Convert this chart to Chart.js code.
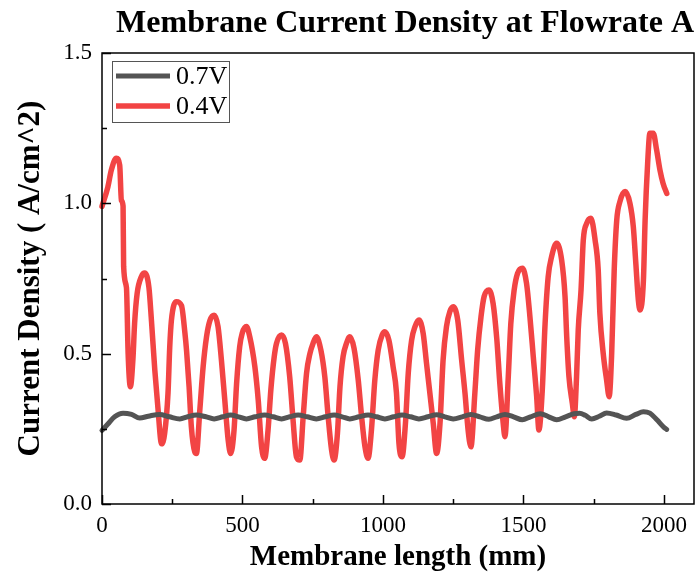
<!DOCTYPE html>
<html>
<head>
<meta charset="utf-8">
<script src="https://cdn.jsdelivr.net/npm/chart.js@4/dist/chart.umd.min.js"></script>
<style>
  body { margin: 0; background: #fff; }
  canvas { display: block; }
</style>
</head>
<body>
<canvas id="chart" width="698" height="576"></canvas>
<script>
// values (mm, A/cm^2)
const lengthHigh = [0, 20, 45, 75, 105, 134, 165, 205, 240, 277, 305, 336, 370, 399, 430, 458, 486, 514,
  545, 579, 609, 639, 668, 698, 730, 763, 795, 826, 855, 882, 915, 947, 977, 1007, 1038, 1068, 1098,
  1128, 1160, 1191, 1220, 1250, 1282, 1313, 1345, 1377, 1405, 1434, 1465, 1496, 1525, 1560, 1590,
  1618, 1650, 1680, 1700, 1720, 1743, 1770, 1796, 1830, 1867, 1900, 1927, 1950, 1975, 2000, 2010];
const current07V = [0.245, 0.265, 0.29, 0.302, 0.298, 0.286, 0.292, 0.298, 0.29, 0.283, 0.29, 0.296,
  0.29, 0.283, 0.29, 0.296, 0.29, 0.283, 0.29, 0.296, 0.29, 0.283, 0.29, 0.296, 0.29, 0.283, 0.29,
  0.296, 0.29, 0.283, 0.29, 0.296, 0.29, 0.283, 0.29, 0.296, 0.29, 0.283, 0.29, 0.297, 0.29, 0.283,
  0.29, 0.298, 0.29, 0.282, 0.29, 0.298, 0.29, 0.28, 0.29, 0.30, 0.29, 0.28, 0.29, 0.30, 0.302, 0.295,
  0.283, 0.292, 0.303, 0.296, 0.285, 0.298, 0.307, 0.302, 0.28, 0.255, 0.248];

const lengthLow = [0, 21, 33, 51, 63, 69, 75, 77, 87, 93, 101, 110, 116, 125, 140, 152, 167, 176, 188,
  199, 212, 223, 235, 241, 247, 265, 283, 295, 301, 310, 318, 330, 336, 348, 360, 372, 384, 399, 413,
  425, 437, 449, 458, 470, 479, 490, 499, 514, 526, 544, 556, 568, 579, 591, 601, 613, 621, 639, 653,
  668, 680, 692, 704, 716, 728, 740, 751, 763, 779, 793, 805, 817, 826, 838, 847, 858, 870, 882, 897,
  912, 924, 936, 947, 959, 971, 983, 997, 1007, 1021, 1036, 1048, 1057, 1068, 1080, 1090, 1102, 1114,
  1128, 1143, 1155, 1167, 1179, 1191, 1203, 1214, 1226, 1238, 1250, 1266, 1280, 1292, 1303, 1313,
  1327, 1337, 1349, 1360, 1377, 1392, 1405, 1416, 1428, 1434, 1446, 1455, 1467, 1479, 1496, 1511,
  1523, 1535, 1547, 1555, 1567, 1577, 1588, 1600, 1618, 1636, 1648, 1654, 1662, 1674, 1681, 1689,
  1695, 1705, 1713, 1725, 1740, 1755, 1766, 1772, 1784, 1796, 1805, 1814, 1823, 1832, 1843, 1862,
  1879, 1891, 1900, 1909, 1915, 1927, 1933, 1942, 1950, 1962, 1974, 1986, 1997, 2010];
const current04V = [0.99, 1.055, 1.11, 1.15, 1.127, 1.01, 0.99, 0.79, 0.72, 0.50, 0.39, 0.48, 0.60,
  0.70, 0.756, 0.768, 0.72, 0.61, 0.445, 0.32, 0.20, 0.235, 0.37, 0.52, 0.61, 0.673, 0.66, 0.57, 0.51,
  0.39, 0.257, 0.174, 0.168, 0.31, 0.457, 0.556, 0.61, 0.628, 0.59, 0.479, 0.346, 0.213, 0.168, 0.246,
  0.40, 0.523, 0.568, 0.59, 0.556, 0.457, 0.346, 0.19, 0.152, 0.246, 0.38, 0.49, 0.534, 0.562, 0.534,
  0.423, 0.279, 0.157, 0.146, 0.29, 0.435, 0.50, 0.534, 0.556, 0.512, 0.423, 0.29, 0.18, 0.146, 0.235,
  0.39, 0.49, 0.534, 0.556, 0.518, 0.412, 0.29, 0.19, 0.152, 0.246, 0.412, 0.512, 0.562, 0.573, 0.545,
  0.457, 0.37, 0.2, 0.157, 0.268, 0.435, 0.545, 0.59, 0.612, 0.568, 0.468, 0.368, 0.268, 0.168, 0.268,
  0.479, 0.59, 0.64, 0.656, 0.612, 0.479, 0.368, 0.246, 0.19, 0.368, 0.512, 0.623, 0.69, 0.712, 0.667,
  0.55, 0.40, 0.268, 0.224, 0.423, 0.60, 0.712, 0.767, 0.784, 0.734, 0.623, 0.49, 0.357, 0.246, 0.379,
  0.60, 0.756, 0.822, 0.867, 0.811, 0.69, 0.556, 0.423, 0.335, 0.29, 0.423, 0.579, 0.712, 0.878, 0.933,
  0.95, 0.878, 0.78, 0.634, 0.50, 0.412, 0.357, 0.50, 0.778, 0.944, 1.005, 1.039, 1.0, 0.922, 0.80,
  0.678, 0.645, 0.745, 0.944, 1.133, 1.233, 1.233, 1.177, 1.11, 1.066, 1.033];

const serif = '"Liberation Serif", "Times New Roman", serif';

const toPoints = (xs, ys) => xs.map((x, i) => ({ x, y: ys[i] }));
const isHalf = (v) => Math.abs(v * 2 - Math.round(v * 2)) < 1e-6;

// box, inward ticks and the boxed legend, drawn the way the original plot has them
const framePlugin = {
  id: 'frame',
  afterDatasetsDraw(chart) {
    const { ctx, chartArea: a, scales } = chart;
    ctx.save();
    ctx.strokeStyle = '#000';
    ctx.lineWidth = 1.5;
    ctx.strokeRect(a.left, a.top, a.right - a.left, a.bottom - a.top);

    ctx.beginPath();
    scales.x.ticks.forEach((t) => {
      const px = Math.round(scales.x.getPixelForValue(t.value)) + 0.5;
      const len = t.value % 500 === 0 ? 9 : 5;
      ctx.moveTo(px, a.bottom);
      ctx.lineTo(px, a.bottom - len);
    });
    scales.y.ticks.forEach((t) => {
      const py = Math.round(scales.y.getPixelForValue(t.value)) + 0.5;
      const len = isHalf(t.value) ? 9 : 5;
      ctx.moveTo(a.left, py);
      ctx.lineTo(a.left + len, py);
    });
    ctx.stroke();

    // legend
    const lx = a.left + 10, ly = a.top + 8, lw = 117, lh = 61;
    ctx.fillStyle = '#fff';
    ctx.fillRect(lx, ly, lw, lh);
    ctx.strokeStyle = '#555';
    ctx.lineWidth = 1;
    ctx.strokeRect(lx + 0.5, ly + 0.5, lw, lh);
    ctx.font = '26px ' + serif;
    ctx.textBaseline = 'middle';
    chart.data.datasets.forEach((ds, i) => {
      const y = ly + 15 + i * 30;
      ctx.strokeStyle = ds.borderColor;
      ctx.lineWidth = ds.borderWidth;
      ctx.lineCap = 'butt';
      ctx.beginPath();
      ctx.moveTo(lx + 4, y);
      ctx.lineTo(lx + 58, y);
      ctx.stroke();
      ctx.fillStyle = '#000';
      ctx.fillText(ds.label, lx + 64, y + 1);
    });
    ctx.restore();
  }
};

new Chart(document.getElementById('chart'), {
  type: 'line',
  data: {
    datasets: [
      {
        label: '0.7V',
        data: toPoints(lengthHigh, current07V),
        borderColor: '#545454',
        borderWidth: 5,
        cubicInterpolationMode: 'monotone',
        pointRadius: 0,
        borderJoinStyle: 'round',
        borderCapStyle: 'round',
        clip: false
      },
      {
        label: '0.4V',
        data: toPoints(lengthLow, current04V),
        borderColor: '#f24444',
        borderWidth: 5.5,
        cubicInterpolationMode: 'monotone',
        pointRadius: 0,
        borderJoinStyle: 'round',
        borderCapStyle: 'round',
        clip: false
      }
    ]
  },
  options: {
    responsive: false,
    animation: false,
    devicePixelRatio: 1,
    layout: { padding: { left: 0, right: 4, top: 0, bottom: 0 } },
    plugins: {
      legend: { display: false },
      tooltip: { enabled: false },
      title: {
        display: true,
        text: 'Membrane Current Density at Flowrate A',
        align: 'end',
        color: '#000',
        font: { family: serif, size: 32, weight: 'bold' },
        padding: { top: 5, bottom: 9.6 }
      }
    },
    scales: {
      x: {
        type: 'linear',
        min: 0,
        max: 2107,
        afterFit: (s) => { s.height = 72; },
        afterBuildTicks: (s) => { s.ticks = s.ticks.filter((t) => t.value % 250 === 0); },
        grid: { display: false },
        border: { display: false },
        ticks: {
          stepSize: 250,
          includeBounds: false,
          autoSkip: false,
          maxRotation: 0,
          padding: 0,
          color: '#000',
          font: { family: serif, size: 23 },
          callback: (v) => (v % 500 === 0 ? String(v) : '')
        },
        title: {
          display: true,
          text: 'Membrane length (mm)',
          color: '#000',
          font: { family: serif, size: 29, weight: 'bold' },
          padding: { top: 0, bottom: 1 }
        }
      },
      y: {
        min: 0,
        max: 1.5,
        afterFit: (s) => { s.width = 102; },
        grid: { display: false },
        border: { display: false },
        ticks: {
          stepSize: 0.25,
          autoSkip: false,
          padding: 2,
          color: '#000',
          font: { family: serif, size: 23 },
          callback: (v) => (isHalf(v) ? v.toFixed(1) : '')
        },
        title: {
          display: true,
          text: 'Current Density ( A/cm^2)',
          color: '#000',
          font: { family: serif, size: 31, weight: 'bold' },
          padding: { top: 12, bottom: 0 }
        }
      }
    }
  },
  plugins: [framePlugin]
});
</script>
</body>
</html>
